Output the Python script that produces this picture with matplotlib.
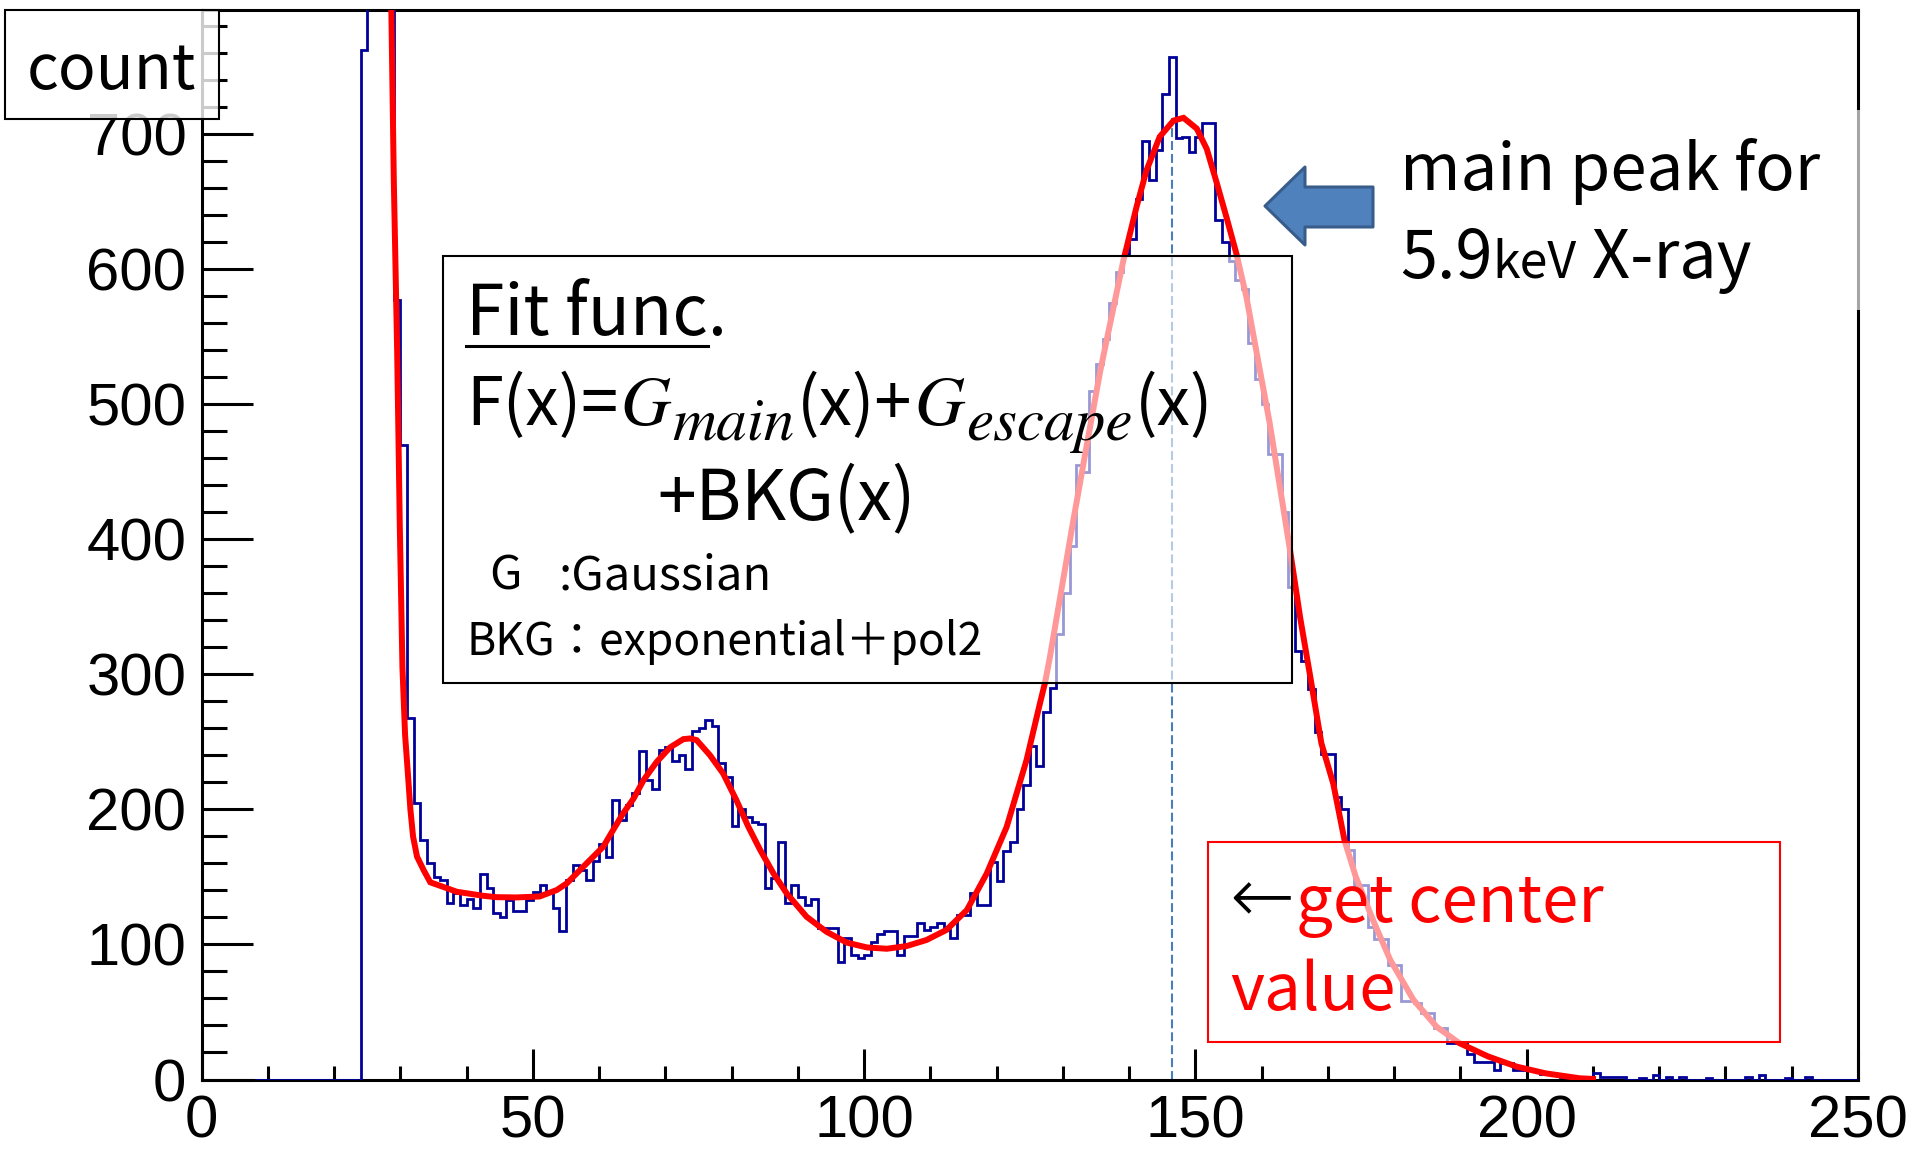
import matplotlib.pyplot as plt
from matplotlib.patches import Rectangle, Polygon
from matplotlib.lines import Line2D
from matplotlib.ticker import MultipleLocator
import numpy as np

W, H = 1917, 1160

# ADC spectrum, 1 unit per bin, first bin starts at 8
bin_start = 8
counts = [
    0, 0,                                              # 8-9
    0, 0, 0, 0, 0, 0, 0, 0, 0, 0,                      # 10-19
    0, 0, 0, 0, 762, 1060, 1180, 1010, 810, 577,       # 20-29
    470, 268, 205, 177, 160, 150, 148, 131, 138, 129,  # 30-39
    134, 127, 152, 142, 123, 120, 133, 125, 125, 133,  # 40-49
    139, 144, 138, 127, 110, 148, 159, 155, 148, 162,  # 50-59
    174, 165, 207, 192, 203, 212, 243, 222, 215, 244,  # 60-69
    246, 236, 240, 230, 258, 260, 266, 262, 234, 224,  # 70-79
    188, 200, 194, 191, 189, 142, 149, 176, 131, 144,  # 80-89
    135, 129, 134, 112, 112, 112, 87, 105, 92, 90,     # 90-99
    92, 102, 108, 110, 110, 92, 106, 106, 116, 111,    # 100-109
    113, 116, 111, 105, 122, 122, 138, 129, 129, 161,  # 110-119
    147, 169, 176, 200, 218, 247, 232, 272, 290, 330,  # 120-129
    360, 395, 455, 450, 510, 530, 548, 575, 598, 611,  # 130-139
    622, 652, 695, 666, 688, 730, 757, 697, 698, 687,  # 140-149
    698, 708, 708, 636, 620, 606, 592, 585, 545, 519,  # 150-159
    500, 463, 463, 420, 365, 317, 310, 289, 257, 241,  # 160-169
    241, 209, 200, 170, 144, 144, 113, 104, 104, 85,   # 170-179
    85, 58, 58, 57, 49, 49, 38, 38, 27, 27,            # 180-189
    27, 19, 13, 13, 13, 7, 12, 12, 7, 7,               # 190-199
    7, 6, 4, 5, 3, 2, 2, 1, 1, 2,                      # 200-209
    5, 2, 2, 2, 2, 0, 0, 1, 0, 3,                      # 210-219
    0, 2, 0, 2, 0, 0, 0, 1, 0, 0,                      # 220-229
    0, 0, 0, 2, 0, 3, 0, 0, 0, 1,                      # 230-239
    0, 0, 2, 0, 0, 0, 0, 0, 0, 0,                      # 240-249
]

# fitted F(x) = G_main + G_escape + exp + pol2, sampled along the curve
fit_x = [28.3, 28.6, 29.0, 29.5, 29.9, 30.3, 30.7, 31.1, 31.5, 31.9,
         32.5, 33.5, 34.5, 36.4, 38.5, 40.5, 42.5, 44.5, 47.5, 51.0,
         53.6, 55.1, 56.6, 58.6, 60.6, 62.1, 63.6, 65.2, 66.7, 68.7,
         70.7, 72.7, 73.7, 74.7, 76.7, 78.7, 80.7, 82.5, 84.3, 86.3,
         88.3, 91.3, 94.3, 97.4, 100.4, 103.4, 106.4, 109.4, 112.4, 115.5,
         118.5, 121.5, 124.5, 126.5, 127.3, 128.0, 129.5, 131.6, 133.6, 135.6,
         137.6, 139.1, 141.1, 142.6, 144.6, 146.7, 148.2, 150.2, 151.7, 153.2,
         154.7, 156.2, 157.7, 159.2, 161.2, 162.7, 164.3, 165.8, 167.3, 169.0,
         170.8, 172.5, 174.2, 176.8, 179.4, 182.9, 186.4, 189.8, 194.2, 198.5,
         202.8, 208.0, 210.0]
fit_y = [1000, 800, 665, 540, 410, 305, 255, 228, 200, 180,
         165, 155, 146, 142.7, 139, 137.5, 136, 135, 134.8, 135.5,
         140.3, 145.2, 152.6, 162.5, 172.3, 184.7, 197, 208.1, 221.7, 235.3,
         245.9, 252, 252.5, 251.3, 240.2, 226.6, 206.9, 187.2, 169.9, 152.6,
         137.8, 120.5, 109.4, 101.3, 97.8, 96.8, 98.8, 103.3, 110.7, 125.5,
         152.6, 187, 236.5, 278, 294, 312, 355, 415, 470, 524,
         571, 606, 646, 673, 698, 710, 712, 704, 689, 664,
         638, 611, 579, 539, 486, 440, 391, 342, 299, 249,
         219, 177, 150, 118, 88.5, 59, 39, 27, 17, 9.5,
         4.6, 0.9, 0.4]

main_center = 146.4
main_center_height = 712

x_major = [0, 50, 100, 150, 200, 250]
y_major = [0, 100, 200, 300, 400, 500, 600, 700]

OVERLAY_FONT = ["Noto Sans CJK JP", "DejaVu Sans"]
MATH_FONT = "STIXGeneral"


def fx(px):
    return px / W


def fy(py):
    return 1 - py / H


def put(fig, px, py, s, size, color="black", family=None, **kw):
    return fig.text(fx(px), fy(py), s, fontsize=size, color=color,
                    family=family or OVERLAY_FONT, ha="left", va="baseline",
                    zorder=10, **kw)


def put_run(fig, px, py, pieces, gap=2):
    """Write pieces one after another on a line; each piece is
    (text, size, family, style, baseline shift in px, color)."""
    renderer = fig.canvas.get_renderer()
    x = px
    for s, size, family, style, dy, color in pieces:
        t = put(fig, x, py + dy, s, size, color=color, family=family,
                style=style)
        bb = t.get_window_extent(renderer)
        x = bb.x1 + gap


def add_box(fig, x0, y0, x1, y1, face_alpha, edge, lw=1.5):
    rect = Rectangle((fx(x0), fy(y1)), fx(x1) - fx(x0), fy(y0) - fy(y1),
                     transform=fig.transFigure,
                     facecolor=(1, 1, 1, face_alpha),
                     edgecolor=edge, linewidth=lw, zorder=5)
    fig.add_artist(rect)


def draw_spectrum(ax):
    edges = np.arange(bin_start, bin_start + len(counts) + 1)
    ax.stairs(counts, edges, color="#000099", linewidth=2.0, zorder=3)
    ax.plot(fit_x, fit_y, color="#ff0000", linewidth=4.3, zorder=4,
            solid_joinstyle="miter")
    ax.plot([main_center, main_center], [0, main_center_height],
            color="#4a7ebb", linewidth=1.5, linestyle=(0, (4.3, 1.9)),
            zorder=2)

    ax.set_xlim(0, 250)
    ax.set_ylim(0, 792)
    ax.set_xticks(x_major)
    ax.set_yticks(y_major)
    ax.xaxis.set_minor_locator(MultipleLocator(10))
    ax.yaxis.set_minor_locator(MultipleLocator(20))

    ax.tick_params(axis="y", which="major", direction="in", length=37,
                   width=2.2, pad=11, labelsize=43)
    ax.tick_params(axis="y", which="minor", direction="in", length=18,
                   width=2.2)
    ax.tick_params(axis="x", which="major", direction="in", length=22,
                   width=2.2, pad=11, labelsize=43)
    ax.tick_params(axis="x", which="minor", direction="in", length=10,
                   width=2.2)
    for lab in ax.get_xticklabels() + ax.get_yticklabels():
        lab.set_family("Liberation Sans")
    for sp in ax.spines.values():
        sp.set_linewidth(2.2)
        sp.set_zorder(2.5)


def draw_notes(fig):
    # "count" label box in the upper left corner
    add_box(fig, 5, 10, 219, 119, 0.8, "black")
    put(fig, 27, 89, "count", 45)

    # fit function box
    add_box(fig, 443, 256, 1292, 683, 0.6, "black")
    put(fig, 466, 335, "Fit func.", 50)
    fig.add_artist(Line2D([fx(466), fx(708)], [fy(346), fy(346)],
                          transform=fig.transFigure, color="black",
                          linewidth=2.2, zorder=10))
    fam = OVERLAY_FONT
    put_run(fig, 466, 425, [
        ("F(x)=", 48, fam, "normal", 0, "black"),
        ("G", 50, MATH_FONT, "italic", 0, "black"),
        ("main", 44, MATH_FONT, "italic", 15, "black"),
        ("(x)+", 48, fam, "normal", 0, "black"),
        ("G", 50, MATH_FONT, "italic", 0, "black"),
        ("escape", 44, MATH_FONT, "italic", 15, "black"),
        ("(x)", 48, fam, "normal", 0, "black"),
    ])
    put(fig, 657, 520, "+BKG(x)", 50)
    put(fig, 489, 590, "G", 34)
    put(fig, 558, 590, ":Gaussian", 34)
    put(fig, 466, 655, "BKG：exponential＋pol2", 32)

    # main peak note with block arrow
    add_box(fig, 1380, 110, 1917, 310, 0.65, "none", lw=0)
    arrow = Polygon([(fx(1265), fy(206)), (fx(1305), fy(167)),
                     (fx(1305), fy(187)), (fx(1373), fy(187)),
                     (fx(1373), fy(227)), (fx(1305), fy(227)),
                     (fx(1305), fy(245))],
                    closed=True, transform=fig.transFigure,
                    facecolor="#4f81bd", edgecolor="#385d8a",
                    linewidth=2.2, joinstyle="round", zorder=6)
    fig.add_artist(arrow)
    put(fig, 1400, 190, "main peak for", 47)
    put_run(fig, 1400, 278, [
        ("5.9", 48, fam, "normal", 0, "black"),
        ("keV", 36, fam, "normal", 0, "black"),
        (" X-ray", 48, fam, "normal", 0, "black"),
    ], gap=0)

    # center value note
    add_box(fig, 1208, 842, 1780, 1042, 0.6, "#ff0000")
    fig.text(fx(1262), fy(900), "←", fontsize=56, color="black",
             family=["DejaVu Sans"], ha="center", va="center",
             fontweight="light", zorder=10)
    put(fig, 1296, 922, "get center", 47, color="#ff0000")
    put(fig, 1230, 1010, "value", 47, color="#ff0000")


def main():
    fig = plt.figure(figsize=(W / 100, H / 100), dpi=100)
    ax = fig.add_axes([201.7 / W, (H - 1079.5) / H,
                       (1858 - 201.7) / W, (1079.5 - 9.8) / H])
    draw_spectrum(ax)
    draw_notes(fig)
    fig.savefig("out.png", dpi=100)


if __name__ == "__main__":
    main()
